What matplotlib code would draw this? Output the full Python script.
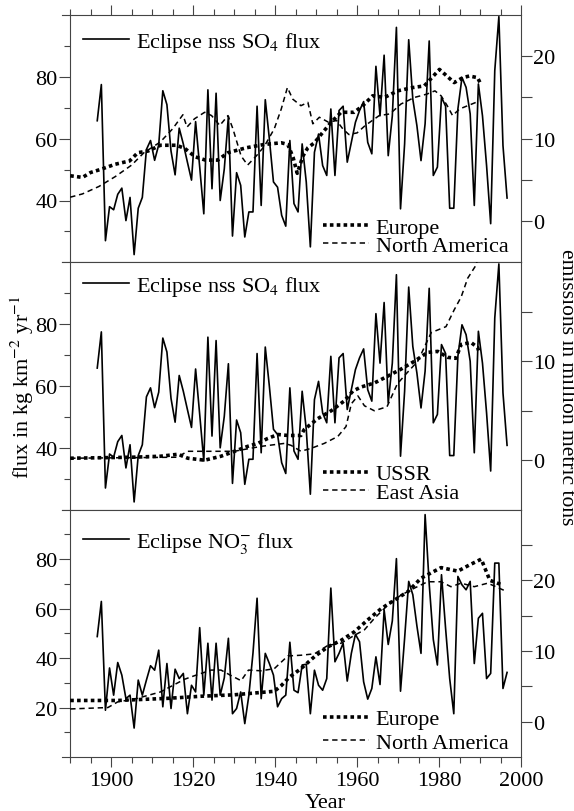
import numpy as np
import matplotlib
matplotlib.use('Agg')
import matplotlib.pyplot as plt
from matplotlib.ticker import MultipleLocator

plt.rcParams['font.family'] = ['Liberation Serif', 'DejaVu Serif']
plt.rcParams['mathtext.fontset'] = 'stix'
plt.rcParams['font.size'] = 16

# annual ice-core fluxes (kg km-2 yr-1), one value per year 1896..1996
flux_years = np.arange(1896.6, 1997)
so4_flux = [65.8, 77.5, 27, 38, 37, 42, 44, 33.5, 41, 22.5,
            37.5, 41, 56.5, 59.4, 53, 58, 75.5, 71, 56, 48.3,
            63.4, 58.3, 52.4, 46.6, 65.5, 50.8, 35.7, 75.8, 43.8, 74.7,
            40, 50.2, 67.2, 28.5, 49, 44.9, 28.2, 36.3, 36.3, 70.5,
            38.4, 72.6, 59.9, 46, 44.3, 35.2, 31.7, 59.4, 39, 36.3,
            58.3, 46, 25, 55.6, 61.5, 51.3, 48.1, 69.6, 48.1, 69.1,
            70.5, 52.4, 58.8, 65.3, 69.1, 72, 58.8, 55.1, 83.4, 67.4,
            87, 54.5, 67.4, 96, 37.3, 58.3, 92, 72.8, 64.2, 52.9,
            64.8, 91.6, 48.1, 50.8, 73.4, 70.5, 37.5, 37.5, 69.6, 79.8,
            76.6, 68, 38.4, 77.7, 67.4, 51.3, 32.5, 82, 99.5, 57.8,
            40.8]
no3_flux = [48.7, 62.9, 18.9, 36, 25, 38.2, 33.1, 23.6, 25, 11.7,
            31.1, 25, 31.1, 36.9, 35.1, 43.2, 20.3, 37.8, 19.6, 35.5,
            31.7, 33.8, 17.5, 29, 26.3, 52.3, 25, 46, 23, 46,
            25, 32, 48, 17.5, 19.6, 26.3, 13.5, 25, 42, 64.2,
            23.6, 41.9, 37.8, 33.1, 20.3, 23.6, 25, 46.4, 27, 26,
            37.2, 37.5, 17.5, 35.1, 29, 27, 31.7, 68.3, 38.5, 41.9,
            46, 30.7, 41.9, 49.6, 46.6, 30.4, 23.4, 27.7, 40.5, 29.3,
            59.5, 45.5, 55, 80.2, 26.6, 48, 71, 65.6, 53, 41.9,
            98, 70, 47.5, 37.2, 73.7, 52, 31.7, 17.5, 73, 69.6,
            67.6, 71, 37.8, 56.1, 58.1, 31.7, 33.8, 78.4, 78.4, 27.7,
            34.2]

# emissions (million metric tons)
eu_so2_years = [1890, 1893, 1895, 1897.6, 1901, 1904.5, 1906.5, 1909, 1912, 1916,
                1918, 1920.5, 1923, 1926, 1928.5, 1933, 1937.4, 1941.5, 1943.1, 1944.4,
                1945.4, 1946.8, 1948, 1949.6, 1951.2, 1953.7, 1956.1, 1959.3, 1961.4, 1963.8,
                1966.7, 1969.9, 1973.6, 1976.4, 1980.1, 1983.7, 1985.8, 1987.4, 1989.4, 1990.2]
eu_so2 = [5.5, 5.3, 5.9, 6.3, 6.9, 7.3, 8.3, 8.5, 9.2, 9.2,
          8.8, 7.8, 7.4, 7.4, 8.3, 8.9, 9.3, 9.5, 9.3, 7.7,
          5.8, 7.9, 8.9, 9.5, 10.5, 12, 13.2, 13.2, 14, 15.2,
          15, 15.8, 16.2, 16.4, 18.4, 16.8, 17.4, 17.6, 17.4, 16.6]
na_so2_years = [1890, 1893, 1897, 1901, 1905, 1908, 1912, 1915, 1917.5, 1918.5,
                1920.3, 1922.8, 1924.5, 1926.5, 1928.5, 1929.7, 1931.7, 1933.3, 1935.4, 1937.4,
                1939.8, 1941.5, 1943, 1944.3, 1946.3, 1948, 1949.2, 1950.8, 1953, 1955,
                1956.5, 1958, 1960, 1962, 1965.4, 1968, 1970.7, 1974, 1977, 1979,
                1980.5, 1982, 1983.3, 1985, 1987, 1989]
na_so2 = [2.9, 3.3, 4.2, 5.4, 6.8, 8.3, 9.6, 11.2, 12.9, 11.4,
          12.4, 13.2, 12.8, 11.6, 12.8, 11.2, 7.9, 6.8, 7.9, 9.1,
          11.2, 13.6, 16.2, 14.8, 14, 14.4, 11.8, 12.6, 12, 12.2,
          11.2, 10.5, 10.7, 11.6, 12.8, 13, 14.2, 15, 15.4, 15.8,
          15.2, 14, 12.8, 13.6, 14, 14.4]
ussr_years = [1890, 1905, 1912, 1916.3, 1918.7, 1922.8, 1926.8, 1930.1, 1933.3, 1935.8,
              1938.2, 1940.7, 1943.1, 1946.3, 1947.1, 1950.4, 1953.7, 1956.9, 1959, 1961,
              1964.2, 1967.5, 1970.7, 1974, 1977.2, 1979.7, 1982.1, 1984.1, 1985.4, 1987.8,
              1989.4, 1989.8]
ussr_so2 = [0.2, 0.3, 0.4, 0.6, 0.2, 0.0, 0.4, 0.9, 1.4, 1.7,
            2.2, 2.6, 2.5, 2.5, 3.1, 4.2, 5.0, 6.0, 7.0, 7.4,
            7.8, 8.5, 9.2, 10.0, 10.9, 11.0, 10.4, 10.3, 11.7, 11.9,
            11.4, 10.9]
asia_years = [1890, 1916, 1918.7, 1926, 1930, 1936.6, 1942.3, 1943.9, 1946.3, 1948.8,
              1952, 1955.3, 1957.3, 1958.6, 1960.2, 1961.8, 1964.2, 1967.3, 1969.8, 1971.9,
              1974.8, 1978.1, 1981.7, 1983.7, 1985.4, 1987, 1989, 1990.5]
asia_so2 = [0.2, 0.3, 0.9, 0.9, 0.9, 1.4, 1.7, 1.5, 0.9, 1.2,
            1.7, 2.4, 3.4, 5.7, 6.5, 5.5, 5.0, 5.4, 7.7, 8.7,
            10.0, 12.9, 13.5, 15.2, 16.5, 18.4, 19.7, 22]
eu_nox_years = [1890, 1901.6, 1913.8, 1922, 1930, 1939.8, 1941.5, 1943.5, 1946.3, 1949.6,
                1952.9, 1956.1, 1959.3, 1962.6, 1965.9, 1969.1, 1972.4, 1975.6, 1980.5, 1984.6,
                1987.5, 1990.3, 1992.4, 1995.2]
eu_nox = [3.0, 3.0, 3.3, 3.6, 3.8, 4.3, 5.1, 6.3, 7.5, 9.2,
          10.6, 11.5, 12.7, 14.4, 16.0, 17.2, 18.4, 20.3, 21.8, 21.3,
          22.2, 23.0, 20.0, 19.4]
na_nox_years = [1890, 1899.2, 1901.6, 1905.7, 1912, 1917.9, 1920.3, 1924.4, 1926.8, 1929,
                1931.7, 1933.5, 1936.6, 1939.8, 1943.1, 1946.3, 1949.6, 1952.9, 1956.1, 1959.3,
                1961.8, 1964.2, 1967.5, 1970.7, 1974, 1977.2, 1980.5, 1982.9, 1985.4, 1988.6,
                1991.9, 1995.8]
na_nox = [1.8, 2.0, 2.8, 3.2, 4.2, 6.0, 6.5, 7.3, 7.3, 6.6,
          5.8, 7.3, 7.2, 7.5, 9.3, 9.4, 9.6, 10.8, 11.1, 12.2,
          13.0, 14.6, 16.5, 17.9, 18.9, 19.8, 19.8, 19.1, 19.6, 19.1,
          19.6, 18.6]

AX_COL = '#444444'
DOT = dict(color='black', lw=2.6, ls=(0, (1, 0.9)))
DASH = dict(color='black', lw=1.1, ls=(0, (3.5, 2.5)))
SOLID = dict(color='black', lw=1.2)
LEG = dict(frameon=False, borderpad=0, borderaxespad=0, handlelength=2.05, handletextpad=0.32)

fig, axes = plt.subplots(3, 1, figsize=(5.74, 8.12), dpi=100, sharex=True)
fig.subplots_adjust(left=62/574, right=521/574, bottom=1-758/812, top=1-16/812, hspace=0)


def setup(ax, ylim, ymaj, ymin, rlim, rticks, rlabels, xpos):
    ax.set_xlim(1888, 2000)
    ax.set_ylim(*ylim)
    ax.set_yticks(ymaj)
    ax.set_yticks(ymin, minor=True)
    ax.spines['left'].set_position(('data', 1890))
    ax.spines['right'].set_visible(False)
    for s in ax.spines.values():
        s.set_color(AX_COL)
        s.set_linewidth(0.8)
    ax.tick_params(axis='y', which='major', direction='out', length=8, width=0.8,
                   color=AX_COL, pad=1, labelsize=16)
    ax.tick_params(axis='y', which='minor', direction='out', length=4, width=0.8, color=AX_COL)
    ax.xaxis.set_major_locator(MultipleLocator(20))
    ax.xaxis.set_minor_locator(MultipleLocator(5))
    if xpos == 'none':
        ax.tick_params(axis='x', which='both', bottom=False, top=False,
                       labelbottom=False, labeltop=False)
    else:
        ax.xaxis.set_ticks_position(xpos)
        ax.tick_params(axis='x', which='major', direction='out', length=7, width=0.8,
                       color=AX_COL, pad=3, labelsize=16)
        ax.tick_params(axis='x', which='minor', direction='out', length=4, width=0.8, color=AX_COL)
        if xpos == 'top':
            ax.tick_params(axis='x', labeltop=False, labelbottom=False)
    r = ax.twinx()
    r.set_ylim(*rlim)
    r.set_yticks(rticks)
    r.set_yticklabels(rlabels)
    for k in ['left', 'top', 'bottom']:
        r.spines[k].set_visible(False)
    r.spines['right'].set_color(AX_COL)
    r.spines['right'].set_linewidth(0.8)
    r.tick_params(axis='y', direction='out', length=8, width=0.8, color=AX_COL,
                  pad=1, labelsize=16)
    return r


# top panel: SO4 flux with Europe / North America SO2
ax1 = axes[0]
r1 = setup(ax1, (20, 100), [40, 60, 80], [30, 50, 70, 90], (-5, 25),
           [0, 5, 10, 15, 20], ['0', '', '10', '', '20'], 'top')
l1, = ax1.plot(flux_years, so4_flux, **SOLID)
e1, = r1.plot(eu_so2_years, eu_so2, **DOT)
n1, = r1.plot(na_so2_years, na_so2, **DASH)
ax1.legend([l1], ['Eclipse nss SO$_4$ flux'], loc='upper left',
           bbox_to_anchor=(0.0458, 0.939), **LEG)
r1.legend([e1, n1], ['Europe', 'North America'], loc='lower left',
          bbox_to_anchor=(0.5686, 0.025), labelspacing=-0.1, **LEG)

# middle panel: SO4 flux with USSR / East Asia SO2
ax2 = axes[1]
r2 = setup(ax2, (20, 100), [40, 60, 80], [30, 50, 70, 90], (-5, 20),
           [0, 5, 10, 15], ['0', '', '10', ''], 'none')
l2, = ax2.plot(flux_years, so4_flux, **SOLID)
e2, = r2.plot(ussr_years, ussr_so2, **DOT)
n2, = r2.plot(asia_years, asia_so2, **DASH)
ax2.legend([l2], ['Eclipse nss SO$_4$ flux'], loc='upper left',
           bbox_to_anchor=(0.0458, 0.954), **LEG)
r2.legend([e2, n2], ['USSR', 'East Asia'], loc='lower left',
          bbox_to_anchor=(0.5686, 0.028), labelspacing=-0.1, **LEG)

# bottom panel: NO3 flux with Europe / North America NOx
ax3 = axes[2]
r3 = setup(ax3, (0, 100), [20, 40, 60, 80], [10, 30, 50, 70, 90], (-5, 30),
           [0, 5, 10, 15, 20, 25], ['0', '', '10', '', '20', ''], 'bottom')
ax3.set_xticks([1900, 1920, 1940, 1960, 1980, 2000])
l3, = ax3.plot(flux_years, no3_flux, **SOLID)
e3, = r3.plot(eu_nox_years, eu_nox, **DOT)
n3, = r3.plot(na_nox_years, na_nox, **DASH)
ax3.legend([l3], ['Eclipse NO$_3^{-}$ flux'], loc='upper left',
           bbox_to_anchor=(0.0458, 0.918), **LEG)
r3.legend([e3, n3], ['Europe', 'North America'], loc='lower left',
          bbox_to_anchor=(0.5686, 0.016), labelspacing=0.14, **LEG)

fig.text(325/574, 1-804/812, 'Year', ha='center', va='center', fontsize=16)
fig.text(22/574, 1-387/812, 'flux in kg km$^{-2}$ yr$^{-1}$', rotation=90,
         ha='center', va='center', fontsize=16)
fig.text(566/574, 1-387/812, 'emissions in million metric tons', rotation=270,
         ha='center', va='center', fontsize=15.5)

fig.savefig('out.png', dpi=100)
